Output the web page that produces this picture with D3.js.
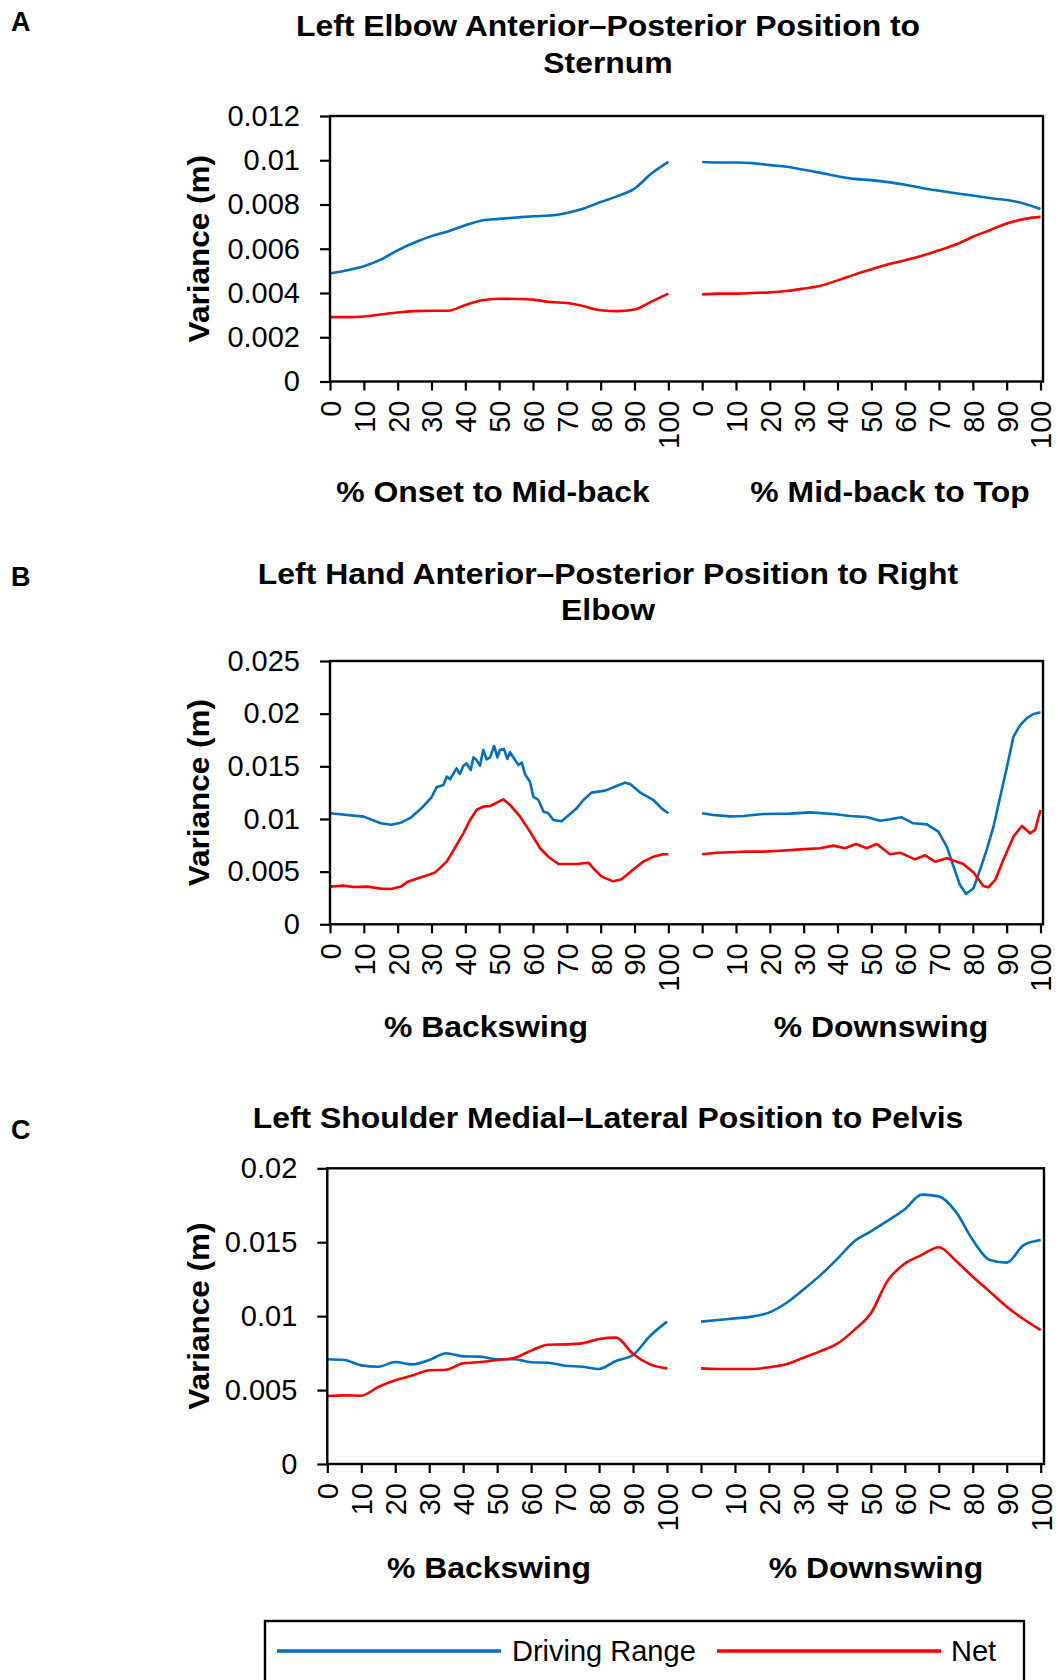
<!DOCTYPE html>
<html>
<head>
<meta charset="utf-8">
<script src="https://cdn.jsdelivr.net/npm/d3@7"></script>
<style>
  body { margin: 0; background: #fff; }
  svg { display: block; background: #fff; }
</style>
</head>
<body>
<svg id="fig" width="1058" height="1680"></svg>
<script>
// Percent-of-phase positions shared by the evenly sampled series
const pct5 = [0, 5, 10, 15, 20, 25, 30, 35, 40, 45, 50, 55, 60, 65, 70, 75, 80, 85, 90, 95, 100];

// Phase-axis tick labels (two phases side by side)
const phaseTicks = [0, 10, 20, 30, 40, 50, 60, 70, 80, 90, 100];

// A: Left elbow anterior–posterior position to sternum (variance, m)
const elbowRangeOnset = [0.00488, 0.00503, 0.00521, 0.00551, 0.00593, 0.00628, 0.00657, 0.00679, 0.00706, 0.00728, 0.00735,
                         0.00741, 0.00747, 0.00750, 0.00762, 0.00782, 0.00811, 0.00838, 0.00872, 0.00940, 0.00993];
const elbowNetOnset   = [0.00291, 0.00291, 0.00294, 0.00303, 0.00312, 0.00318, 0.00320, 0.00320, 0.00346, 0.00367, 0.00374,
                         0.00373, 0.00370, 0.00359, 0.00355, 0.00340, 0.00322, 0.00318, 0.00325, 0.00361, 0.00397];
const elbowRangeTop   = [0.00992, 0.00990, 0.00990, 0.00987, 0.00978, 0.00971, 0.00957, 0.00943, 0.00928, 0.00916, 0.00910,
                         0.00901, 0.00889, 0.00875, 0.00862, 0.00851, 0.00841, 0.00829, 0.00820, 0.00805, 0.00780];
const elbowNetTop     = [0.00394, 0.00397, 0.00397, 0.00400, 0.00403, 0.00409, 0.00420, 0.00433, 0.00457, 0.00483, 0.00507,
                         0.00530, 0.00548, 0.00568, 0.00593, 0.00619, 0.00654, 0.00684, 0.00714, 0.00734, 0.00744];

// B: Left hand anterior–posterior position to right elbow ([% phase, variance m])
const handRangeBack = [[0,0.01054],[10,0.01022],[15,0.00959],[18,0.00946],[21,0.00965],[24,0.01016],[27,0.01101],[30,0.01206],
  [31.5,0.01301],[33.5,0.01323],[34.5,0.01402],[35.5,0.01377],[37.4,0.01481],[38.4,0.01427],[39.4,0.01503],[40.4,0.01528],
  [41.6,0.01465],[42.4,0.01585],[43.3,0.01560],[44.3,0.01506],[45.3,0.01655],[46.3,0.01566],[47.3,0.01585],[48.5,0.01693],
  [49.5,0.01585],[50.2,0.01655],[51.4,0.01665],[52.4,0.01570],[53.2,0.01633],[54.7,0.01560],[55.7,0.01513],[56.7,0.01535],
  [57.6,0.01427],[59.1,0.01354],[60.1,0.01212],[61.6,0.01180],[63.1,0.01070],[64.5,0.01054],[66,0.00991],[68.5,0.00978],
  [70,0.01022],[72.9,0.01101],[74.9,0.01180],[77.3,0.01250],[81.3,0.01269],[84.7,0.01313],[87.2,0.01345],[88.7,0.01332],
  [91.6,0.01253],[95.6,0.01180],[98,0.01101],[100,0.01054]];
const handNetBack = [[0,0.00358],[4,0.00367],[7,0.00354],[11,0.00358],[15,0.00339],[18,0.00335],[21,0.00358],[23,0.00405],
  [26,0.00437],[29,0.00468],[31,0.00491],[34.5,0.00595],[37.4,0.00753],[39.4,0.00864],[41.4,0.00991],[43.3,0.01085],
  [45.3,0.01117],[47.3,0.01123],[49.3,0.01155],[51.2,0.01187],[53.2,0.01133],[56.2,0.01022],[59.1,0.00880],[62.1,0.00722],
  [64.5,0.00642],[67.5,0.00573],[70,0.00573],[72.9,0.00573],[76.4,0.00585],[77.8,0.00532],[80.3,0.00453],[83.7,0.00408],
  [86.2,0.00427],[89.7,0.00522],[92.6,0.00595],[95.6,0.00642],[98.5,0.00665],[100,0.00665]];
const handRangeDown = [[0,0.01054],[3.3,0.01038],[8.3,0.01025],[12.2,0.01028],[18.1,0.01047],[26,0.01051],[31.9,0.01063],
  [38.8,0.01047],[43.7,0.01028],[48.6,0.01019],[52.6,0.00984],[55.5,0.00997],[59,0.01016],[62.4,0.00959],[66.4,0.00949],
  [69.8,0.00880],[72.3,0.00737],[74.3,0.00547],[76.2,0.00373],[78,0.00288],[80.2,0.00342],[82.1,0.00516],[84.1,0.00706],
  [86.1,0.00927],[88.1,0.01212],[90,0.01481],[92,0.01782],[94,0.01892],[95.9,0.01956],[97.9,0.01997],[100,0.02013]];
const handNetDown = [[0,0.00665],[4.3,0.00680],[8.3,0.00684],[13.2,0.00690],[18.1,0.00690],[23,0.00699],[28,0.00709],
  [34.8,0.00722],[38.8,0.00747],[42.2,0.00722],[45.5,0.00763],[48.6,0.00722],[51.6,0.00763],[55.5,0.00665],[58.5,0.00680],
  [62.9,0.00617],[65.9,0.00655],[68.8,0.00595],[72.3,0.00627],[77.2,0.00573],[80.2,0.00491],[83.1,0.00364],[84.6,0.00351],
  [86.6,0.00421],[89,0.00611],[92,0.00832],[94.5,0.00934],[96.9,0.00864],[98.4,0.00896],[100,0.01085]];

// C: Left shoulder medial–lateral position to pelvis (variance, m)
const shoulderRangeBack = [0.00708, 0.00703, 0.00667, 0.00658, 0.00690, 0.00674, 0.00703, 0.00749, 0.00728, 0.00726, 0.00708,
                           0.00708, 0.00688, 0.00685, 0.00665, 0.00658, 0.00643, 0.00697, 0.00737, 0.00866, 0.00963];
const shoulderNetBack   = [0.00460, 0.00464, 0.00462, 0.00521, 0.00566, 0.00598, 0.00634, 0.00638, 0.00681, 0.00690, 0.00703,
                           0.00717, 0.00767, 0.00807, 0.00809, 0.00816, 0.00846, 0.00855, 0.00744, 0.00674, 0.00647];
const shoulderRangeDown = [0.00963, 0.00974, 0.00985, 0.00997, 0.01024, 0.01087, 0.01177, 0.01274, 0.01384, 0.01504, 0.01574,
                           0.01646, 0.01723, 0.01822, 0.01810, 0.01707, 0.01515, 0.01380, 0.01362, 0.01481, 0.01515];
const shoulderNetDown   = [0.00647, 0.00643, 0.00643, 0.00643, 0.00654, 0.00674, 0.00717, 0.00762, 0.00812, 0.00904, 0.01019,
                           0.01242, 0.01355, 0.01414, 0.01466, 0.01375, 0.01267, 0.01166, 0.01064, 0.00979, 0.00906];

const seriesNames = ["Driving Range", "Net"];
const RANGE_COLOR = "#0070C0";
const NET_COLOR = "#FF0000";
const FONT = '"Liberation Sans", Arial, Helvetica, sans-serif';
const DOWN_OFFSET = 110; // second phase starts after a gap of ten units

const onGrid = vals => vals.map((v, i) => [pct5[i], v]);

const panels = [
  {
    letter: "A", letterY: 31,
    title: ["Left Elbow Anterior\u2013Posterior Position to", "Sternum"], titleY: [36, 72.5],
    left: 330, right: 1043, xEnd: 1040.5, top: 116, bottom: 381.5,
    yMax: 0.012, yTicks: [0, 0.002, 0.004, 0.006, 0.008, 0.01, 0.012],
    phaseTitles: [["% Onset to Mid-back", 493], ["% Mid-back to Top", 890]], phaseTitleY: 502,
    range: [onGrid(elbowRangeOnset), onGrid(elbowRangeTop)],
    net: [onGrid(elbowNetOnset), onGrid(elbowNetTop)],
    curve: d3.curveMonotoneX
  },
  {
    letter: "B", letterY: 586,
    title: ["Left Hand Anterior\u2013Posterior Position to Right", "Elbow"], titleY: [584, 620],
    left: 330, right: 1043, xEnd: 1040.5, top: 661, bottom: 924.3,
    yMax: 0.025, yTicks: [0, 0.005, 0.01, 0.015, 0.02, 0.025],
    phaseTitles: [["% Backswing", 486], ["% Downswing", 881]], phaseTitleY: 1037,
    range: [handRangeBack, handRangeDown],
    net: [handNetBack, handNetDown],
    curve: d3.curveLinear
  },
  {
    letter: "C", letterY: 1139,
    title: ["Left Shoulder Medial\u2013Lateral Position to Pelvis"], titleY: [1128],
    left: 327.3, right: 1044, xEnd: 1040.7, top: 1168.3, bottom: 1464,
    yMax: 0.02, yTicks: [0, 0.005, 0.01, 0.015, 0.02],
    phaseTitles: [["% Backswing", 489], ["% Downswing", 876]], phaseTitleY: 1578,
    range: [onGrid(shoulderRangeBack), onGrid(shoulderRangeDown)],
    net: [onGrid(shoulderNetBack), onGrid(shoulderNetDown)],
    curve: d3.curveMonotoneX
  }
];

const svg = d3.select("#fig");
svg.append("rect").attr("width", 1058).attr("height", 1680).attr("fill", "#fff");

// bold heading text set slightly wide
function wideText(parent, str, tx, ty, size, stretch, rotate) {
  return parent.append("text")
    .attr("transform", `translate(${tx},${ty})${rotate ? " rotate(-90)" : ""} scale(${stretch},1)`)
    .attr("text-anchor", "middle")
    .attr("font-family", FONT).attr("font-size", size).attr("font-weight", "bold")
    .text(str);
}

function drawPanel(p) {
  const g = svg.append("g");
  const x = d3.scaleLinear().domain([0, 210]).range([p.left, p.xEnd]);
  const y = d3.scaleLinear().domain([0, p.yMax]).range([p.bottom, p.top]);

  g.append("text")
    .attr("x", 11).attr("y", p.letterY)
    .attr("font-family", FONT).attr("font-size", 27).attr("font-weight", "bold")
    .text(p.letter);

  p.title.forEach((t, i) => wideText(g, t, 608, p.titleY[i], 29, 1.1, false));

  // series lines
  const line = d3.line()
    .x(d => x(d[0]))
    .y(d => y(d[1]))
    .curve(p.curve);

  [[p.range, RANGE_COLOR], [p.net, NET_COLOR]].forEach(([phases, color]) => {
    phases.forEach((pts, k) => {
      const shifted = pts.map(d => [d[0] + (k ? DOWN_OFFSET : 0), d[1]]);
      g.append("path")
        .datum(shifted)
        .attr("fill", "none")
        .attr("stroke", color)
        .attr("stroke-width", 2.6)
        .attr("stroke-linejoin", "round")
        .attr("d", line);
    });
  });

  // plot frame
  g.append("rect")
    .attr("x", p.left).attr("y", p.top)
    .attr("width", p.right - p.left).attr("height", p.bottom - p.top)
    .attr("fill", "none").attr("stroke", "#000").attr("stroke-width", 2.4);

  // value axis
  const yAxis = d3.axisLeft(y)
    .tickValues(p.yTicks)
    .tickSize(10)
    .tickPadding(20)
    .tickFormat(d => String(+d.toFixed(3)));
  const ya = g.append("g")
    .attr("transform", `translate(${p.left},0)`)
    .call(yAxis)
    .attr("font-family", FONT).attr("font-size", 29);
  ya.select(".domain").remove();
  ya.selectAll(".tick line").attr("stroke", "#000").attr("stroke-width", 2.2);
  ya.selectAll(".tick text").attr("fill", "#000");

  // phase axis: 0..100 for each phase
  const xTickVals = phaseTicks.concat(phaseTicks.map(t => t + DOWN_OFFSET));
  const xAxis = d3.axisBottom(x)
    .tickValues(xTickVals)
    .tickSize(9)
    .tickFormat(d => String(d > 100 ? d - DOWN_OFFSET : d));
  const xa = g.append("g")
    .attr("transform", `translate(0,${p.bottom})`)
    .call(xAxis)
    .attr("font-family", FONT).attr("font-size", 29);
  xa.select(".domain").remove();
  xa.selectAll(".tick line").attr("stroke", "#000").attr("stroke-width", 2.2);
  xa.selectAll(".tick text")
    .attr("fill", "#000")
    .attr("transform", "rotate(-90)")
    .attr("text-anchor", "end")
    .attr("x", -19)
    .attr("y", 0)
    .attr("dy", "0.36em");

  // axis titles
  wideText(g, "Variance (m)", 209, (p.top + p.bottom) / 2, 30, 1.05, true);
  p.phaseTitles.forEach(([t, cx]) => wideText(g, t, cx, p.phaseTitleY, 29, 1.1, false));
}

panels.forEach(drawPanel);

// legend
const lg = svg.append("g");
lg.append("rect")
  .attr("x", 265).attr("y", 1621).attr("width", 759).attr("height", 90)
  .attr("fill", "#fff").attr("stroke", "#000").attr("stroke-width", 2.4);
const legendItems = [
  { name: seriesNames[0], color: RANGE_COLOR, x1: 277, x2: 501, tx: 512 },
  { name: seriesNames[1], color: NET_COLOR, x1: 717, x2: 941, tx: 951 }
];
legendItems.forEach(it => {
  lg.append("line")
    .attr("x1", it.x1).attr("x2", it.x2).attr("y1", 1651).attr("y2", 1651)
    .attr("stroke", it.color).attr("stroke-width", 3.5);
  lg.append("text")
    .attr("x", it.tx).attr("y", 1661)
    .attr("font-family", FONT).attr("font-size", 29)
    .text(it.name);
});
</script>
</body>
</html>
